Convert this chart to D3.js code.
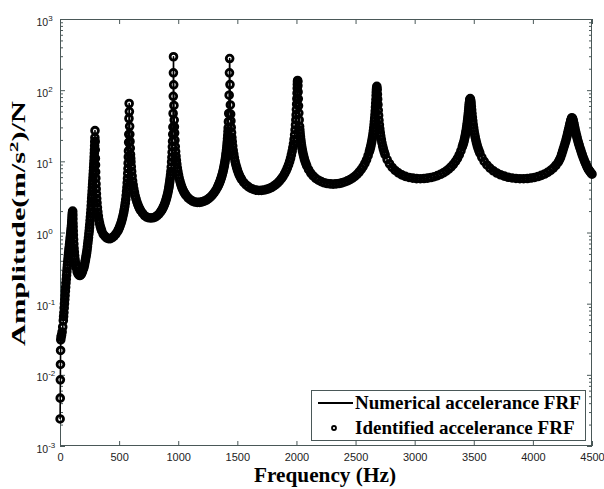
<!DOCTYPE html>
<html><head><meta charset="utf-8">
<script src="https://cdn.jsdelivr.net/npm/d3@7"></script>
<style>html,body{margin:0;padding:0;background:#fff;} svg{display:block;}</style>
</head><body>
<div id="chart"></div>
<script>
// Frequency (Hz), amplitude ((m/s^2)/N)
const identified = [
[1,0.0024],[2,0.0047],[3,0.0085],[4,0.014],[5,0.022],[6.5,0.031],[9,0.034],[13,0.036],[18,0.04],[23,0.047],[28,0.058],[30.5,0.066],[33,0.075],[35.5,0.087],[38,0.1],[40.5,0.114],[43,0.13],[45.5,0.15],[48,0.17],[50.5,0.195],[53,0.22],[55.5,0.25],[58,0.28],[60.5,0.315],[63,0.35],[65.5,0.39],[68,0.43],[70.5,0.475],[73,0.52],[75.5,0.57],[78,0.62],[80.5,0.68],[83,0.74],[85.5,0.81],[88,0.88],[90,0.95],[92,1.02],[94,1.1],[96,1.18],[97.5,1.26],[99,1.35],[100.3,1.43],[101.5,1.52],[102.5,1.61],[103.5,1.7],[104.4,1.78],[105.2,1.86],[106.1,1.93],[107,2.0],
[108.5,1.75],[109.2,1.55],[110,1.35],[111,1.2],[112,1.05],[113.4,0.92],[115,0.8],[117,0.69],[119,0.6],[121.5,0.53],[124,0.47],[127,0.42],[130,0.38],[133.5,0.35],[137,0.32],[145,0.28],[154,0.26],[163,0.25],[172,0.25],[181,0.26],[190,0.28],[199,0.31],[203,0.33],[207,0.35],[211,0.38],[215,0.41],[218.5,0.445],[222,0.48],[225.5,0.52],[229,0.57],[232,0.63],[235,0.7],[238,0.77],[241,0.85],[244,0.95],[247,1.05],[249.5,1.17],[252,1.3],[254.5,1.47],[257,1.65],[259.5,1.86],[262,2.1],[264,2.38],[266,2.7],[268,3.03],[270,3.4],[272,3.82],[274,4.3],[275.8,4.78],[277.5,5.3],[279.3,5.92],[281,6.6],[282.8,7.36],[284.5,8.2],[286,9.15],[287.5,10.2],[289,11.5],[290.5,13],[291.8,14.6],[293,16.5],[294,18.8],[295,21.5],[296,27],
[297.4,19],[298.3,14.5],[299.3,11],[300.4,8.9],[301.5,7.1],[303,5.8],[304.5,4.8],[306.2,4.1],[308,3.5],[310.5,3.0],[313,2.6],[316.5,2.24],[320,1.94],[324.5,1.7],[329,1.5],[334.5,1.35],[340,1.23],[346,1.14],[352,1.06],[365,0.95],[379,0.89],[394,0.84],[410,0.82],[426,0.82],[442,0.85],[458,0.89],[474,0.96],[489,1.05],[496,1.11],[503,1.18],[509.5,1.26],[516,1.35],[522,1.46],[528,1.59],[533.5,1.74],[539,1.91],[543.5,2.1],[548,2.32],[552,2.58],[556,2.9],[559.5,3.3],[563,3.77],[566,4.3],[568.5,4.96],[571,5.75],[573,6.75],[575,7.9],[576.5,9.4],[578,11.5],[579.3,14],[580.7,18.5],[581.9,24],[583.4,40],[585,65],
[586.8,50],[589,31],[590.6,24],[592.2,19],[594.2,15.3],[596.3,12.5],[598.2,11],[600,9.8],[603,8.4],[606,7.2],[610,6.2],[614,5.3],[619,4.65],[624,4.1],[630,3.65],[636,3.27],[643,2.96],[650,2.7],[657.5,2.49],[665,2.31],[673,2.17],[681,2.05],[698,1.87],[715,1.73],[733,1.65],[751,1.61],[769,1.6],[787,1.61],[804,1.65],[820,1.71],[836,1.81],[851,1.95],[858,2.03],[865,2.12],[871.5,2.23],[878,2.35],[884,2.49],[890,2.64],[895.5,2.82],[901,3.03],[906,3.26],[911,3.52],[915.5,3.84],[920,4.2],[923,4.5],[926,4.9],[929,5.3],[932,5.8],[935,6.4],[938,7.2],[941,8.3],[944,9.8],[946.5,11.4],[948.5,13.4],[950.5,16],[952,19.1],[953.7,24],[955,30.3],[956.8,47],[958.2,82],[959.3,175],[960,295],
[961.8,119],[963.7,61],[966,38],[967.7,30.5],[969.5,25],[972,19.8],[975,16.1],[978,13.7],[981,11.8],[984.5,10.3],[988,9.1],[992.5,8.05],[997,7.2],[1002.5,6.45],[1008,5.8],[1014.5,5.25],[1021,4.8],[1028,4.43],[1035,4.13],[1042.5,3.88],[1050,3.66],[1058,3.48],[1066,3.32],[1083,3.08],[1102,2.89],[1121,2.76],[1141,2.68],[1161,2.65],[1181,2.65],[1201,2.69],[1220,2.76],[1239,2.85],[1257,2.99],[1274,3.16],[1290,3.38],[1305,3.64],[1319,3.95],[1332,4.32],[1338,4.53],[1344,4.77],[1349.5,5.02],[1355,5.3],[1360,5.6],[1365,5.93],[1369.5,6.29],[1374,6.68],[1378,7.1],[1382,7.58],[1385.5,8.07],[1389,8.6],[1392,9.17],[1395,9.8],[1398,10.6],[1401,11.4],[1403.5,12.3],[1406,13.2],[1408.5,14.4],[1411,15.7],[1413,17.1],[1415,18.7],[1417,20.8],[1419,23.2],[1420.8,26.2],[1422.5,29.5],[1424.8,36],[1427.2,47],[1430.9,85],[1433.4,175],[1435,278],
[1437.9,120],[1441.1,62],[1443.3,46],[1445.6,37],[1448.2,30],[1451,25.2],[1454,21.6],[1457,18.9],[1461,16.4],[1465,14.3],[1470,12.6],[1475,11.2],[1481,10.0],[1487,9.0],[1494,8.2],[1501,7.5],[1509,6.9],[1517,6.4],[1526,5.97],[1535,5.6],[1554,5.05],[1574,4.66],[1595,4.37],[1616,4.16],[1638,4.03],[1660,3.94],[1682,3.9],[1704,3.91],[1726,3.95],[1747,4.03],[1768,4.14],[1788,4.29],[1807,4.48],[1825,4.71],[1842,4.99],[1858,5.32],[1873,5.71],[1887,6.16],[1900,6.7],[1912,7.32],[1923,8.06],[1933,8.91],[1942,9.9],[1950,11.0],[1957,12.3],[1963.5,13.8],[1969.5,15.6],[1975,17.6],[1980,20.3],[1984.5,23.6],[1988.5,27.6],[1992,32.4],[1995,38.2],[1997.5,44.9],[1999.8,53.3],[2001.8,63.5],[2003.6,76],[2005.2,90.7],[2006.6,106.3],[2007.8,120.6],[2009,131.8],[2010,137],
[2011,131.3],[2012.3,115.2],[2013.8,94.5],[2015.5,75.7],[2017.5,60.3],[2020,47.7],[2023,38.1],[2026.5,30.9],[2028.7,27.6],[2031,24.8],[2033.7,22.4],[2036.5,20.3],[2039.7,18.4],[2043,16.8],[2047,15.3],[2051,14.0],[2056,12.8],[2061,11.8],[2067,10.8],[2073,10.0],[2080,9.3],[2087,8.66],[2103,7.63],[2121,6.84],[2141,6.23],[2163,5.77],[2186,5.43],[2210,5.18],[2235,5.0],[2260,4.88],[2285,4.82],[2310,4.79],[2335,4.82],[2360,4.88],[2384,4.98],[2408,5.13],[2431,5.31],[2453,5.54],[2474,5.82],[2494,6.16],[2513,6.58],[2531,7.08],[2548,7.69],[2564,8.44],[2579,9.36],[2593,10.5],[2606,12.0],[2617,13.7],[2622,14.7],[2627,15.8],[2631.5,17.1],[2636,18.6],[2640,20.3],[2644,22.1],[2647.5,24.3],[2651,26.8],[2654,29.6],[2657,32.8],[2659.5,36.4],[2662,40.4],[2664.3,45.3],[2666.5,50.9],[2668.5,57.6],[2670.5,65.4],[2672.3,73.8],[2674,83.9],[2675.5,93.5],[2677,102.4],[2678.5,108],[2680,113],
[2683,101.3],[2685,87.5],[2687,74.5],[2689.5,62.5],[2692,52.1],[2695,44.1],[2698,37.7],[2701.5,32.6],[2705,28.5],[2709,25.3],[2713,22.6],[2718,20.2],[2723,18.2],[2729,16.4],[2735,14.9],[2742.5,13.55],[2750,12.4],[2767,10.6],[2787,9.25],[2810,8.21],[2835,7.44],[2862,6.89],[2891,6.46],[2921,6.15],[2952,5.94],[2984,5.8],[3016,5.72],[3048,5.7],[3079,5.73],[3109,5.8],[3138,5.93],[3166,6.08],[3193,6.3],[3219,6.57],[3243,6.9],[3266,7.29],[3288,7.78],[3309,8.39],[3328,9.1],[3346,9.98],[3362,11.0],[3377,12.3],[3391,14.0],[3403,16.0],[3408.5,17.1],[3414,18.2],[3419,19.7],[3424,21.4],[3428,23.1],[3432,25.0],[3435.5,27.1],[3439,29.4],[3442,31.9],[3445,34.7],[3447.5,37.6],[3450,40.6],[3452.2,44],[3454.5,47.7],[3456.5,51.5],[3458.5,55.6],[3460.3,59.5],[3462,63.4],[3463.5,66.8],[3465,69.8],[3466.5,72.2],[3468,74.2],[3470,76],
[3473,72.9],[3475,69],[3477,64.6],[3479.5,58.8],[3482,52.8],[3485,46.9],[3488,41.6],[3491.5,37],[3495,32.9],[3499,29.5],[3503,26.5],[3507.5,24],[3512,21.9],[3517.5,19.9],[3523,18.2],[3529.5,16.6],[3536,15.3],[3543.5,14.1],[3551,13.1],[3568,11.4],[3588,9.98],[3611,8.89],[3637,8.04],[3665,7.37],[3695,6.86],[3726,6.48],[3758,6.19],[3791,5.97],[3824,5.84],[3857,5.75],[3890,5.7],[3922,5.7],[3954,5.74],[3985,5.82],[4015,5.94],[4044,6.12],[4072,6.34],[4099,6.63],[4125,7.0],[4150,7.47],[4173,8.05],[4195,8.81],[4215,9.77],[4225,10.5],[4234,11.3],[4243,12.5],[4251,13.8],[4258.5,15.1],[4266,16.5],[4272.5,18],[4279,19.5],[4284.5,21.2],[4290,23],[4294.5,24.7],[4299,26.5],[4303,28.2],[4307,30],[4310.5,31.8],[4314,33.5],[4317,35],[4320,36.5],[4322.5,37.8],[4325,39],[4327.5,40],[4330,41],
[4335,40],[4338,38.6],[4341,37],[4344.5,35],[4348,33],[4352,30.7],[4356,28.5],[4360.5,26.4],[4365,24.5],[4370,22.7],[4375,21],[4380.5,19.4],[4386,18],[4392,16.7],[4398,15.5],[4404.5,14.4],[4411,13.3],[4418,12.3],[4425,11.4],[4432.5,10.6],[4440,9.8],[4447.5,9.2],[4455,8.6],[4462.5,8.1],[4470,7.7],[4477.5,7.4],[4485,7.1],[4492.5,6.85],[4500,6.6]
];
const numerical = identified;
const xTickValues = [0,500,1000,1500,2000,2500,3000,3500,4000,4500];
const yTickExponents = [-3,-2,-1,0,1,2,3];
const legendLabels = ["Numerical accelerance FRF","Identified accelerance FRF"];
const xTitle = "Frequency (Hz)";

const W = 604, H = 489;
const L = 60, R = 592, T = 19, B = 446;
const axisColor = "#4a5858";
const svg = d3.select("#chart").append("svg").attr("width", W).attr("height", H);
svg.append("rect").attr("width", W).attr("height", H).attr("fill", "#fff");

const x = d3.scaleLinear().domain([0, 4500]).range([L, R]);
const y = d3.scaleLog().domain([1e-3, 1e3]).range([B, T]);

// frame
svg.append("rect").attr("x", L + 0.5).attr("y", T + 0.5).attr("width", R - L - 1).attr("height", B - T - 1)
  .attr("fill", "none").attr("stroke", axisColor).attr("stroke-width", 1);

// x ticks (bottom and top, inward)
const gxB = svg.append("g").attr("transform", `translate(0,${B})`)
  .call(d3.axisBottom(x).tickValues(xTickValues).tickSize(-5).tickPadding(7).tickFormat(d3.format("d")));
const gxT = svg.append("g").attr("transform", `translate(0,${T})`)
  .call(d3.axisTop(x).tickValues(xTickValues).tickSize(-5).tickFormat(""));
[gxB, gxT].forEach(g => { g.select(".domain").remove(); g.selectAll("line").attr("stroke", axisColor); });
gxB.selectAll("text").attr("font-family", "'Liberation Sans', Arial, sans-serif").attr("font-size", 11).attr("fill", "#222");

// y ticks
const majors = yTickExponents.map(e => Math.pow(10, e));
const minors = [];
for (let e = -3; e < 3; e++) for (let k = 2; k <= 9; k++) minors.push(k * Math.pow(10, e));
function yTicks(axisFn, xpos, vals, size) {
  const g = svg.append("g").attr("transform", `translate(${xpos},0)`)
    .call(axisFn(y).tickValues(vals).tickSize(-size).tickFormat(""));
  g.select(".domain").remove();
  g.selectAll("line").attr("stroke", axisColor);
}
yTicks(d3.axisLeft, L, majors, 5);
yTicks(d3.axisLeft, L, minors, 3);
yTicks(d3.axisRight, R, majors, 5);
yTicks(d3.axisRight, R, minors, 3);

// y tick labels 10^n
const yl = svg.append("g").attr("font-family", "'Liberation Sans', Arial, sans-serif").attr("fill", "#222");
yTickExponents.forEach(e => {
  const t = yl.append("text").attr("x", 36.5).attr("y", y(Math.pow(10, e)) + 6.5).attr("font-size", 10.5);
  t.append("tspan").text("10");
  t.append("tspan").attr("font-size", 8).attr("dy", -5).text(String(e));
});

// numerical line
const line = d3.line().x(d => x(d[0])).y(d => y(d[1]));
svg.append("path").datum(numerical).attr("d", line).attr("fill", "none")
  .attr("stroke", "#000").attr("stroke-width", 1.6).attr("stroke-linejoin", "round");

// identified markers (open circles)
svg.append("g").selectAll("circle").data(identified).join("circle")
  .attr("cx", d => x(d[0])).attr("cy", d => y(d[1])).attr("r", 3.4)
  .attr("fill", "none").attr("stroke", "#000").attr("stroke-width", 2.8);

// axis titles
svg.append("text").attr("x", 325).attr("y", 482).attr("text-anchor", "middle")
  .attr("font-family", "'Liberation Serif', 'Times New Roman', serif").attr("font-weight", "bold")
  .attr("font-size", 21).attr("textLength", 142).attr("lengthAdjust", "spacingAndGlyphs").text(xTitle);

const yt = svg.append("text").attr("font-family", "'Liberation Serif', 'Times New Roman', serif")
  .attr("font-weight", "bold").attr("font-size", 19).attr("fill", "#000");
yt.append("tspan").text("Amplitude(m/s");
yt.append("tspan").attr("font-size", 13).attr("dy", -7).text("2");
yt.append("tspan").attr("font-size", 19).attr("dy", 7).text(")/N");
const natural = yt.node().getComputedTextLength();
const targetLen = 245;
yt.attr("transform", `translate(25,${223.5}) rotate(-90) scale(${targetLen / natural},1) translate(${-natural / 2},0)`);

// legend
const lg = svg.append("g");
lg.append("rect").attr("x", 311.5).attr("y", 390.5).attr("width", 274).attr("height", 50)
  .attr("fill", "#fff").attr("stroke", axisColor).attr("stroke-width", 1);
lg.append("line").attr("x1", 318).attr("x2", 353).attr("y1", 403).attr("y2", 403)
  .attr("stroke", "#000").attr("stroke-width", 2);
lg.append("circle").attr("cx", 334).attr("cy", 428).attr("r", 2)
  .attr("fill", "#fff").attr("stroke", "#000").attr("stroke-width", 1.8);
lg.selectAll("text.lab").data(legendLabels).join("text").attr("class", "lab")
  .attr("x", 355).attr("y", (d, i) => 409 + i * 24.5)
  .attr("font-family", "'Liberation Serif', 'Times New Roman', serif").attr("font-weight", "bold")
  .attr("font-size", 19).attr("fill", "#000").text(d => d);
</script>
</body></html>
